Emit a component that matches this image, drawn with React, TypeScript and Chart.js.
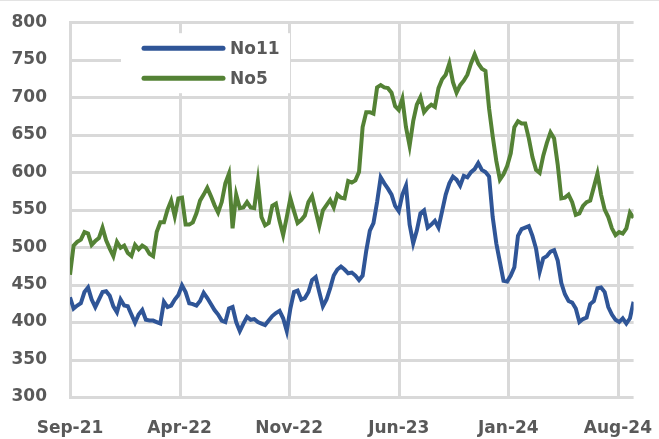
import { useEffect, useRef } from "react";
import { Chart, registerables } from "chart.js";

Chart.register(...registerables);

const seriesNames = ["No11", "No5"];
const seriesColors = ["#2F5597", "#548235"];
const tickLabels = ["Sep-21", "Apr-22", "Nov-22", "Jun-23", "Jan-24", "Aug-24"];
const tickMonths = [0, 7, 14, 21, 28, 35];
const yTicks = { min: 300, max: 800, step: 50 };

// weekly values, starting first week of Sep-2021
const no11 = [
  433, 418, 422, 425, 440, 446, 430, 420, 430, 440,
  441, 435, 421, 413, 430, 422, 421, 410, 399, 410,
  416, 403, 402, 402, 400, 398, 427, 420, 422, 430,
  436, 449, 440, 425, 424, 422, 428, 439, 432, 424,
  416, 410, 402, 400, 418, 420, 400, 388, 398, 407,
  403, 404, 400, 398, 396, 402, 408, 412, 415, 405,
  388, 418, 440, 442, 430, 432, 440, 456, 460, 440,
  421, 430, 445, 462, 470, 474, 470, 465, 466, 462,
  456, 462, 495, 522, 532, 560, 593, 585, 578, 570,
  555, 548, 570, 582, 530, 505, 522, 545, 549, 526,
  530, 535, 526, 548, 570, 585, 594, 590, 582, 595,
  593, 600, 604, 612, 603, 600, 594, 540, 505, 480,
  455, 454, 462, 473, 515, 524, 526, 528, 515, 498,
  467, 485, 488, 494, 496, 482, 452, 437, 428, 426,
  418, 400, 404, 406, 424, 428, 445, 446, 440, 420,
  410, 403, 400, 405, 398, 405, 427,
];

const no5 = [
  463, 502, 507, 510, 520, 518, 503, 508, 512, 526,
  509, 498, 488, 507, 499, 502, 492, 488, 503, 497,
  502, 499, 491, 488, 520, 533, 533, 550, 562, 541,
  565, 566, 530, 530, 533, 545, 562, 570, 579, 568,
  556, 546, 560, 585, 598, 525, 570, 552, 553, 560,
  553, 552, 588, 540, 529, 532, 555, 558, 535, 516,
  540, 565, 548, 532, 536, 542, 560, 568, 548, 528,
  549, 556, 563, 553, 570, 566, 565, 588, 586, 589,
  600, 660, 680, 680, 678, 713, 716, 713, 712, 706,
  688, 683, 698, 660, 635, 668, 690, 700, 680, 686,
  690, 687, 712, 724, 730, 745, 720, 706, 716, 722,
  730, 745, 757, 745, 738, 735, 685, 648, 615, 590,
  597, 608, 625, 660, 668, 665, 665, 645, 620, 603,
  599, 622, 639, 653, 645, 610, 565, 566, 570, 560,
  543, 545, 555, 560, 562, 580, 598, 570, 550, 540,
  525, 516, 520, 518, 525, 546, 539,
];

const WEEKS_PER_MONTH = 52 / 12;
const FONT = "'DejaVu Sans', sans-serif";
const TEXT_COLOR = "#595959";
const GRID_COLOR = "#d9d9d9";

export default function App() {
  const ref = useRef<HTMLCanvasElement | null>(null);

  useEffect(() => {
    document.body.style.margin = "0";
    const canvas = ref.current;
    if (!canvas) return;

    // grid drawn from the scales' own tick positions
    const gridPlugin = {
      id: "excelGrid",
      beforeDatasetsDraw(chart: any) {
        const { ctx, chartArea, scales } = chart;
        const w = 3;
        ctx.save();
        ctx.fillStyle = GRID_COLOR;
        scales.y.ticks.forEach((t: any) => {
          const py = Math.round(scales.y.getPixelForValue(t.value));
          ctx.fillRect(chartArea.left - 1, py - 1, chartArea.right - chartArea.left + 1, w);
        });
        scales.x.ticks.forEach((t: any) => {
          const px = Math.round(scales.x.getPixelForValue(t.value));
          ctx.fillRect(px - 1, chartArea.top - 1, w, chartArea.bottom - chartArea.top + 2);
        });
        ctx.restore();
      },
    };

    const boxLegend = {
      id: "boxLegend",
      afterDatasetsDraw(chart: any) {
        const { ctx, chartArea } = chart;
        const x0 = chartArea.left + 51;
        const y0 = chartArea.top + 11;
        ctx.save();
        ctx.fillStyle = "#ffffff";
        ctx.fillRect(x0, y0, 169, 60);
        chart.data.datasets.forEach((ds: any, i: number) => {
          const cy = y0 + 15 + i * 30;
          ctx.strokeStyle = ds.borderColor;
          ctx.lineWidth = 5;
          ctx.lineCap = "round";
          ctx.beginPath();
          ctx.moveTo(x0 + 23, cy);
          ctx.lineTo(x0 + 102, cy);
          ctx.stroke();
          ctx.fillStyle = TEXT_COLOR;
          ctx.font = `bold 17px ${FONT}`;
          ctx.textBaseline = "middle";
          ctx.textAlign = "left";
          ctx.fillText(ds.label, x0 + 109, cy + 1);
        });
        ctx.restore();
      },
    };

    const chart = new Chart(canvas, {
      type: "line",
      data: {
        datasets: [
          {
            label: seriesNames[0],
            data: no11.map((v, i) => ({ x: i, y: v })),
            borderColor: seriesColors[0],
            backgroundColor: seriesColors[0],
            borderWidth: 4,
            pointRadius: 0,
            tension: 0,
          },
          {
            label: seriesNames[1],
            data: no5.map((v, i) => ({ x: i, y: v })),
            borderColor: seriesColors[1],
            backgroundColor: seriesColors[1],
            borderWidth: 4,
            pointRadius: 0,
            tension: 0,
          },
        ],
      },
      options: {
        animation: false,
        responsive: false,
        layout: { padding: { top: 0, right: 0, left: 0, bottom: 0 } },
        plugins: {
          legend: { display: false },
          tooltip: { enabled: false },
        },
        scales: {
          x: {
            type: "linear",
            min: 0,
            max: no11.length - 1,
            afterBuildTicks: (scale: any) => {
              scale.ticks = tickMonths.map((m) => ({ value: m * WEEKS_PER_MONTH }));
            },
            afterFit: (scale: any) => {
              scale.height = 42;
            },
            ticks: {
              autoSkip: false,
              maxRotation: 0,
              padding: 21,
              color: TEXT_COLOR,
              font: { family: FONT, size: 17, weight: "bold" },
              callback: (_v: any, i: number) => tickLabels[i],
            },
            grid: { display: false, drawTicks: false },
            border: { display: false },
          },
          y: {
            min: yTicks.min,
            max: yTicks.max,
            afterFit: (scale: any) => {
              scale.width = 70;
            },
            ticks: {
              stepSize: yTicks.step,
              padding: 23,
              color: TEXT_COLOR,
              font: { family: FONT, size: 17, weight: "bold" },
            },
            grid: { display: false, drawTicks: false },
            border: { display: false },
          },
        },
      },
      plugins: [gridPlugin, boxLegend],
    });

    return () => chart.destroy();
  }, []);

  return (
    <div
      style={{
        position: "fixed",
        left: 0,
        top: 0,
        width: 659,
        height: 439,
        overflow: "hidden",
        background: "#fff",
        borderTop: "1px solid #e3e3e3",
        boxSizing: "border-box",
      }}
    >
      <canvas
        ref={ref}
        width={673}
        height={450}
        style={{ position: "absolute", left: 0, top: -12, width: 673, height: 450 }}
      />
    </div>
  );
}
